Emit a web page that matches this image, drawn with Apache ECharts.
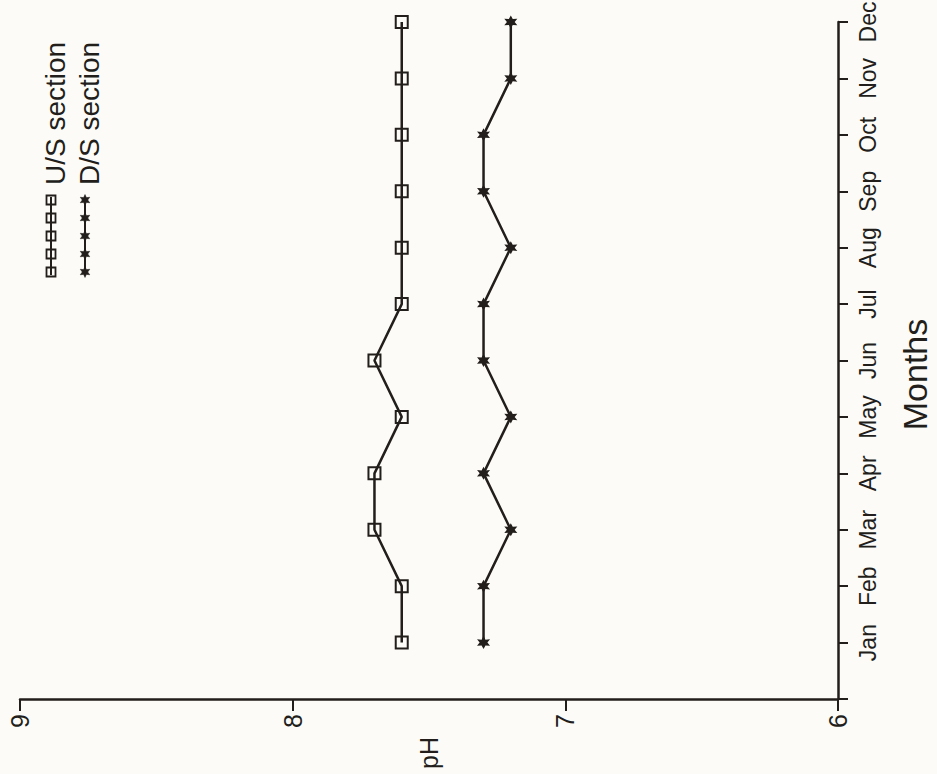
<!DOCTYPE html>
<html>
<head>
<meta charset="utf-8">
<script src="https://cdn.jsdelivr.net/npm/echarts@6/dist/echarts.min.js"></script>
<style>
  html, body { margin: 0; padding: 0; background: #fcfbf7; }
  #chart { width: 937px; height: 774px; }
</style>
</head>
<body>
<div id="chart"></div>
<script>
// ---- data ----
const months = ['Jan','Feb','Mar','Apr','May','Jun','Jul','Aug','Sep','Oct','Nov','Dec'];
const usSection = [7.6, 7.6, 7.7, 7.7, 7.6, 7.7, 7.6, 7.6, 7.6, 7.6, 7.6, 7.6];
const dsSection = [7.3, 7.3, 7.2, 7.3, 7.2, 7.3, 7.3, 7.2, 7.3, 7.3, 7.2, 7.2];
const seriesNames = ['U/S section', 'D/S section'];
const phMin = 6, phMax = 9, phStep = 1;

// ---- style ----
const ink = '#221e1b';
const bg = '#fcfbf7';
const font = '"Liberation Sans", Arial, sans-serif';
const starPath = 'path://M0,-10 L2.6,-4.5 L8.7,-5 L5.2,0 L8.7,5 L2.6,4.5 L0,10 L-2.6,4.5 L-8.7,5 L-5.2,0 L-8.7,-5 L-2.6,-4.5 Z';

function starPoints(cx, cy, r) {
  const pts = [];
  for (let i = 0; i < 12; i++) {
    const a = Math.PI / 6 * i;
    const rr = (i % 2 === 0) ? r : r * 0.5;
    pts.push([cx + rr * Math.cos(a), cy + rr * Math.sin(a)]);
  }
  return pts;
}

function legendGroup(px, py, name, kind) {
  const children = [
    { type: 'polyline', shape: { points: [[0, 0], [78, 0]] }, style: { stroke: ink, lineWidth: 2, fill: null } }
  ];
  for (let i = 0; i < 5; i++) {
    const cx = 3 + i * 18;
    if (kind === 'rect') {
      children.push({ type: 'rect', shape: { x: cx - 4.5, y: -4.5, width: 9, height: 9 }, style: { fill: 'rgba(0,0,0,0)', stroke: ink, lineWidth: 1.8 } });
    } else {
      children.push({ type: 'polygon', shape: { points: starPoints(cx, 0, 5.5) }, style: { fill: ink, stroke: ink, lineWidth: 0.5 } });
    }
  }
  children.push({ type: 'text', x: 90, y: 4, style: { text: name, font: '28px ' + font, fill: ink, verticalAlign: 'middle', align: 'left' } });
  return { type: 'group', x: px, y: py, rotation: Math.PI / 2, children: children };
}

const chart = echarts.init(document.getElementById('chart'), null, { renderer: 'svg' });
chart.setOption({
  backgroundColor: bg,
  animation: false,
  grid: { left: 20, right: 99, top: 22, bottom: 75, containLabel: false, outerBoundsMode: 'none' },
  xAxis: {
    type: 'value',
    min: phMin, max: phMax, interval: phStep,
    inverse: true,
    position: 'bottom',
    name: 'pH',
    nameLocation: 'middle',
    nameRotate: 90,
    nameGap: 38,
    nameTextStyle: { fontSize: 25, fontFamily: font, color: ink, verticalAlign: 'middle', padding: [0, 0, 38, 0] },
    axisLine: { show: true, onZero: false, lineStyle: { color: ink, width: 2.5 } },
    axisTick: { show: true, length: 12, lineStyle: { color: ink, width: 2 } },
    axisLabel: { rotate: 90, margin: 15, fontSize: 25, fontFamily: font, color: ink },
    splitLine: { show: false }
  },
  yAxis: {
    type: 'category',
    position: 'right',
    boundaryGap: false,
    data: [''].concat(months),
    name: 'Months',
    nameLocation: 'middle',
    nameRotate: 90,
    nameGap: 60,
    nameTextStyle: { fontSize: 34, fontFamily: font, color: ink, padding: [0, 28, 0, 0] },
    axisLine: { show: true, onZero: false, lineStyle: { color: ink, width: 2.5 } },
    axisTick: { show: true, length: 10, alignWithLabel: true, lineStyle: { color: ink, width: 2 } },
    axisLabel: { rotate: 90, margin: 18, fontSize: 23, fontFamily: font, color: ink, interval: 0 },
    splitLine: { show: false }
  },
  series: [
    {
      name: seriesNames[0],
      type: 'line',
      data: months.map((m, i) => [usSection[i], m]),
      symbol: 'rect',
      symbolSize: 12,
      lineStyle: { color: ink, width: 2.5 },
      itemStyle: { color: 'rgba(0,0,0,0)', borderColor: ink, borderWidth: 2 }
    },
    {
      name: seriesNames[1],
      type: 'line',
      data: months.map((m, i) => [dsSection[i], m]),
      symbol: starPath,
      symbolSize: 13,
      lineStyle: { color: ink, width: 2.5 },
      itemStyle: { color: ink }
    }
  ],
  graphic: [
    legendGroup(51, 275, seriesNames[0], 'rect'),
    legendGroup(85, 275, seriesNames[1], 'star')
  ]
});
</script>
</body>
</html>
